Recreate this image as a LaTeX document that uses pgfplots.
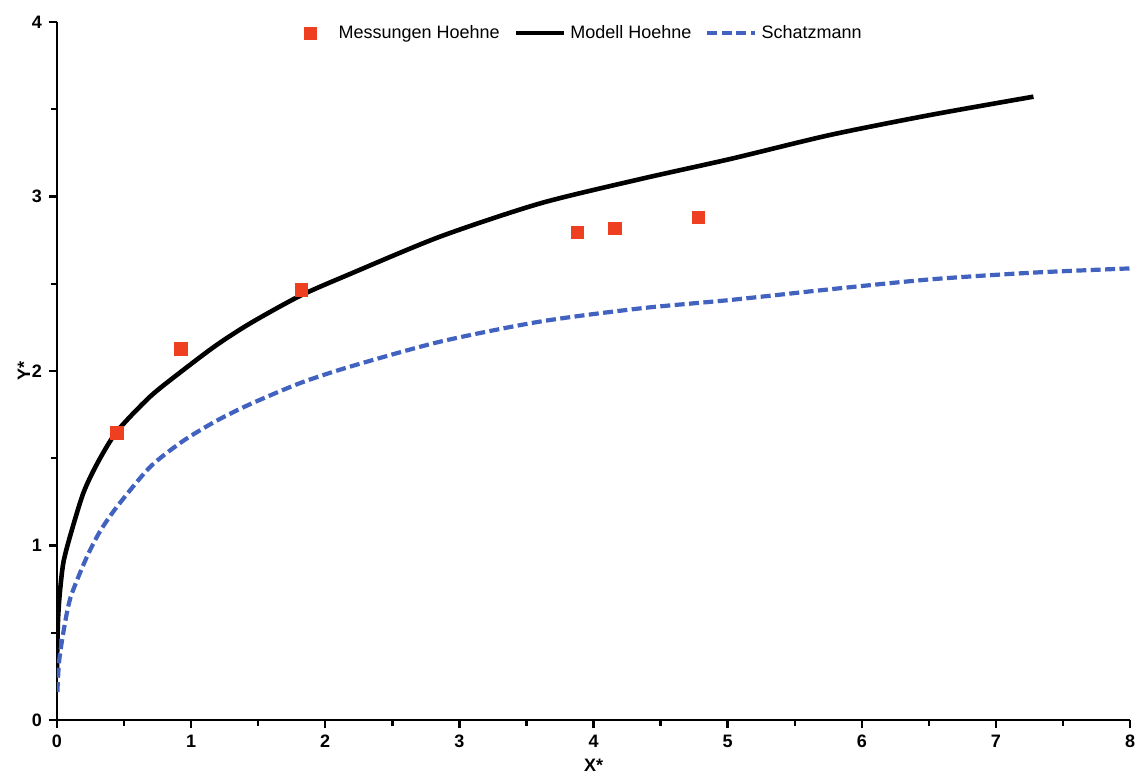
\documentclass[border=0pt]{standalone}
\usepackage{fontspec}
\setmainfont{Liberation Sans}
\usepackage{pgfplots}
\pgfplotsset{compat=1.18}
\definecolor{mred}{HTML}{EE4020}
\definecolor{mblue}{HTML}{4262C0}
\pgfplotsset{
  sqlegend/.style={legend image code/.code={\path[#1] plot coordinates {(6pt,0pt)};}},
  linelegend/.style={legend image code/.code={\draw[#1] (0pt,0pt) -- (24pt,0pt);}},
}
\begin{document}
\begin{tikzpicture}
\begin{axis}[
  width=536.5pt, height=349pt, scale only axis,
  xmin=0, xmax=8, ymin=0, ymax=4,
  axis lines*=left,
  axis line style={line width=1.3pt, black},
  xtick={0,1,...,8}, ytick={0,1,2,3,4},
  minor x tick num=1, minor y tick num=1,
  tick align=outside,
  major tick length=4pt, minor tick length=3pt,
  every tick/.style={line width=1.2pt, black},
  tick label style={font=\bfseries\fontsize{9}{10}\selectfont},
  /pgf/number format/assume math mode=true,
  xlabel={\textbf{X*}}, ylabel={\textbf{Y*}},
  label style={font=\bfseries\fontsize{9}{10}\selectfont},
  xlabel style={yshift=1pt},
  ylabel style={yshift=-6pt},
  legend style={at={(0.492,0.984)}, anchor=center, draw=none, fill=none,
    legend columns=-1, font=\fontsize{9}{11}\selectfont,
    /tikz/every even column/.append style={column sep=5pt}},
  legend cell align=left,
]
\coordinate (sw) at (rel axis cs:0,0);
\coordinate (ne) at (rel axis cs:1,1);
\addplot[only marks, mark=square*, mark size=3.1pt, color=mred, mark options={draw=mred, fill=mred}, sqlegend]
coordinates {(0.447,1.645) (0.925,2.126) (1.82,2.464) (3.88,2.793) (4.16,2.818) (4.78,2.881)};
\addlegendentry{\hspace{9pt}Messungen Hoehne}
\addplot[black, line width=2.3pt, no marks, smooth, tension=0.45, linelegend]
coordinates {(0,0.25) (0.002,0.42) (0.008,0.58) (0.02,0.72) (0.047,0.9) (0.1,1.06) (0.196,1.30) (0.3,1.47) (0.445,1.652) (0.694,1.853) (0.942,2.006) (1.19,2.149) (1.44,2.273) (1.81,2.43) (2.185,2.556) (2.856,2.77) (3.60,2.96) (4.35,3.10) (5.02,3.215) (5.76,3.352) (6.51,3.467) (7.28,3.572)};
\addlegendentry{Modell Hoehne}
\addplot[mblue, line width=2.1pt, no marks, smooth, tension=0.45, dash pattern=on 5pt off 2.2pt, linelegend]
coordinates {(0.003,0.16) (0.015,0.33) (0.047,0.5) (0.1,0.7) (0.22,0.93) (0.32,1.08) (0.445,1.22) (0.694,1.45) (0.942,1.60) (1.19,1.715) (1.44,1.81) (1.81,1.93) (2.185,2.025) (2.856,2.168) (3.60,2.283) (4.35,2.359) (5.02,2.407) (5.76,2.468) (6.51,2.525) (7.26,2.563) (8.0,2.588)};
\addlegendentry{Schatzmann}
\end{axis}
\pgfresetboundingbox
\path (sw) ++(-28.5pt,-28pt) coordinate (bl);
\path (ne) ++(4pt,11pt) coordinate (tr);
\useasboundingbox (bl) rectangle (tr);
\end{tikzpicture}
\end{document}
